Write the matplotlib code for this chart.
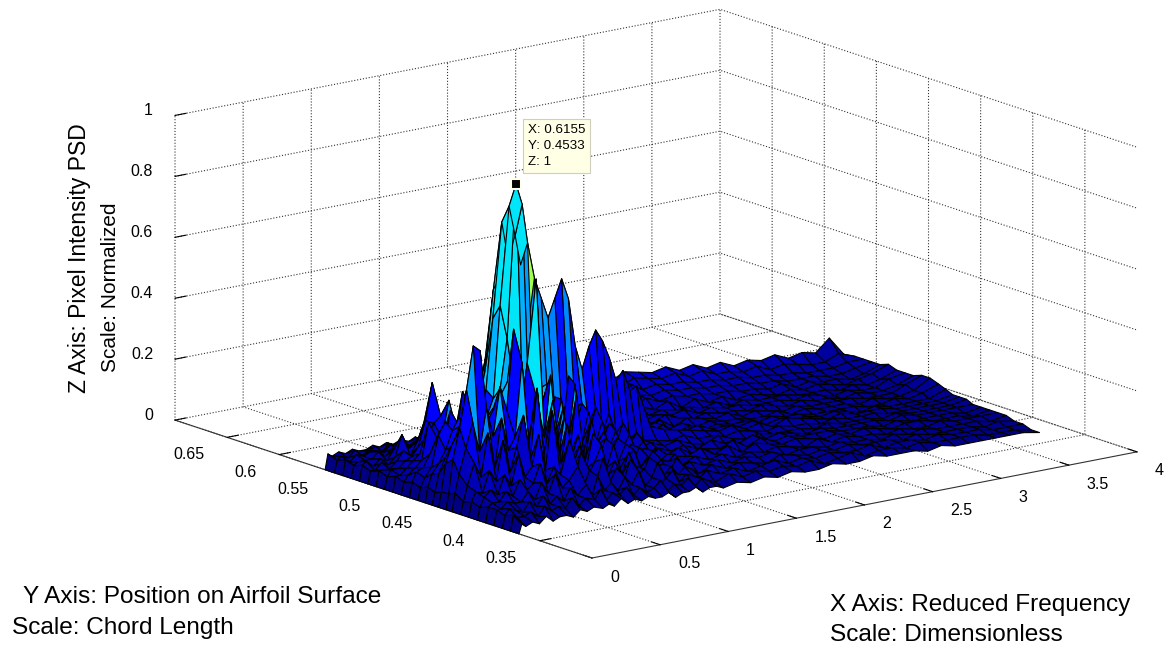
import numpy as np
import matplotlib
matplotlib.use('Agg')
import matplotlib.pyplot as plt
from mpl_toolkits.mplot3d import proj3d

# reduced frequency
x_vals = [0.0, 0.02, 0.05, 0.1, 0.15, 0.2, 0.25, 0.3, 0.35, 0.4, 0.45, 0.5, 0.55, 0.6155, 0.66, 0.7, 0.75, 0.8, 0.85,
          0.9, 0.95, 1.0, 1.05, 1.1, 1.15, 1.2, 1.25, 1.3, 1.35, 1.4, 1.45, 1.5, 1.6, 1.7, 1.8, 1.9, 2.0, 2.1, 2.2,
          2.3, 2.4, 2.5, 2.6, 2.7, 2.8, 2.9, 3.0, 3.1, 3.2, 3.3, 3.4, 3.5, 3.6, 3.7, 3.82]
# chord position
y_vals = [0.37, 0.378, 0.386, 0.394, 0.402, 0.41, 0.418, 0.426, 0.434, 0.44, 0.447, 0.4533, 0.46, 0.467, 0.475,
          0.483, 0.491, 0.499, 0.507, 0.515, 0.523, 0.531, 0.539, 0.547, 0.556]
# PSD in percent of the peak, one row per y value
psd = [
    [0,3,2,3,2,4,2,3,3,2,4,3,4, 3,4,3,5,3,4,3,4,3,3,4,2,3,3,4,2,3,3,2, 3,2,3,2,3,2,2,3,2,2,3,2,2,2,1,2,1,1,1,1,1,1,0],
    [0,5,4,4,5,3,6,4,5,4,7,4,6, 5,8,4,6,5,7,4,6,4,5,7,3,5,4,6,3,5,4,3, 5,3,4,3,4,3,4,2,3,4,2,3,3,2,3,2,2,2,2,1,1,1,0],
    [0,4,6,5,4,7,5,8,5,7,5,9,6, 9,5,11,6,8,5,9,6,10,5,7,4,6,8,4,6,5,4,6, 4,5,3,4,5,3,4,3,4,3,3,4,2,3,3,2,3,2,2,2,1,1,1],
    [0,5,5,7,6,6,9,6,11,7,13,8,10, 14,7,12,8,15,7,11,6,13,7,9,5,10,6,8,5,7,6,4, 6,4,5,4,3,5,4,3,4,3,4,3,3,3,2,3,2,2,2,2,1,2,1],
    [0,5,6,6,9,7,12,8,10,16,9,14,11, 22,10,17,9,13,18,8,12,7,14,9,6,11,7,8,5,9,6,7, 5,6,4,5,4,5,3,4,4,3,4,3,3,2,3,2,3,2,2,2,2,1,2],
    [0,4,7,9,7,13,9,19,11,14,24,12,31, 13,26,11,18,10,21,13,9,16,8,11,13,7,10,6,8,7,9,5, 7,5,6,4,5,4,5,4,3,5,3,4,3,3,2,3,2,2,3,2,2,2,2],
    [0,5,8,7,14,10,23,12,20,30,15,38,16, 33,14,27,12,20,11,24,10,17,12,9,14,8,12,7,10,6,8,7, 6,8,5,7,4,6,5,4,5,4,3,4,3,4,3,2,3,3,2,2,2,1,2],
    [0,4,9,16,11,25,13,29,18,22,46,19,35, 20,40,16,28,13,32,12,22,14,18,10,15,9,12,8,10,7,9,6, 8,5,6,5,7,4,6,4,5,4,4,4,3,3,3,2,3,2,2,2,2,1,2],
    [0,6,12,20,28,18,32,22,38,30,56,28,44, 71,30,36,18,30,15,34,14,24,13,20,11,16,10,14,8,11,7,8, 6,7,5,7,5,4,6,4,5,4,3,4,3,3,3,3,2,3,2,2,2,2,2],
    [0,5,16,26,38,52,50,26,30,34,38,20,28, 25,22,34,20,30,17,36,20,26,16,24,13,18,11,17,10,13,8,9, 7,8,6,5,7,5,4,5,4,4,4,3,4,3,3,3,2,3,2,2,2,2,3],
    [0,5,14,20,24,30,22,28,20,26,30,30,36, 30,28,26,26,28,25,24,26,24,25,18,22,14,20,13,15,10,12,9, 8,7,8,6,6,5,6,5,4,5,4,4,3,4,3,3,3,2,2,2,2,2,3],
    [0,4,10,15,18,24,20,24,18,25,28,34,50, 100,93,80,68,61,54,60,66,59,43,35,42,47,43,37,29,32,25,26, 12,10,9,8,7,6,7,5,6,4,6,5,4,3,4,3,3,3,2,2,2,2,3],
    [0,5,9,12,16,22,26,18,22,20,24,30,60, 92,82,72,50,44,38,40,44,36,30,28,32,26,28,20,22,18,14,12, 10,9,8,7,8,6,6,5,6,4,5,4,4,3,4,3,2,3,2,2,2,2,4],
    [0,4,7,10,20,24,16,22,16,24,18,32,55, 86,74,70,45,34,30,28,34,26,36,20,24,18,22,28,35,14,18,11, 12,8,9,6,7,5,6,5,5,4,5,4,4,3,3,3,3,2,2,3,2,3,5],
    [0,5,8,9,13,18,14,26,18,15,26,24,36, 63,66,60,40,28,42,24,30,18,24,14,22,16,18,14,16,12,16,9, 10,7,9,6,7,5,6,5,5,4,4,5,3,4,3,3,3,2,3,2,2,3,6],
    [0,4,6,8,10,22,12,16,28,14,30,18,22, 39,40,33,30,22,28,18,22,14,20,12,16,11,14,10,13,9,14,8, 9,8,6,8,5,7,6,5,6,4,5,4,3,4,3,3,3,3,2,2,2,4,6],
    [0,5,5,7,9,11,16,20,22,18,14,20,15, 24,20,26,16,20,14,18,12,16,11,15,10,13,9,12,8,11,8,10, 7,9,7,6,8,6,5,6,5,5,4,5,4,3,4,3,3,2,3,2,2,3,5],
    [0,4,6,6,8,9,12,20,32,19,13,11,14, 12,16,11,15,10,14,9,13,9,12,8,11,8,10,7,11,7,9,7, 8,6,9,6,7,6,7,5,6,5,5,4,4,4,3,4,3,2,3,2,2,4,5],
    [0,5,5,5,7,10,8,12,18,10,12,9,10, 14,9,12,8,11,8,12,7,10,7,9,7,10,8,9,7,8,6,8, 7,8,6,9,6,7,6,6,5,6,4,5,4,4,4,3,3,3,2,3,2,3,5],
    [0,4,4,6,5,7,14,9,7,11,8,9,7, 9,10,7,9,7,10,6,9,7,8,6,10,7,8,6,9,7,8,6, 9,6,8,6,8,6,8,5,7,5,6,4,5,4,3,4,3,4,3,2,3,4,6],
    [0,5,6,4,6,5,8,6,9,6,8,6,8, 7,6,9,6,8,6,7,6,9,7,8,6,8,7,9,6,8,7,9, 7,9,7,8,6,9,7,8,7,7,6,6,5,5,4,5,3,4,3,3,2,3,5],
    [0,4,5,5,5,7,5,7,6,8,5,7,6, 7,6,6,8,6,7,7,6,8,6,7,7,9,6,8,6,8,7,10, 8,9,8,10,8,9,8,9,8,8,7,7,6,6,5,5,4,4,4,3,3,4,5],
    [0,5,4,6,5,6,6,5,7,5,6,5,7, 6,7,5,6,7,5,7,6,7,6,8,7,7,8,6,9,7,8,10, 8,11,9,11,9,12,9,10,9,9,8,8,7,7,6,6,5,5,4,4,4,5,5],
    [0,4,5,4,6,4,5,6,4,6,5,6,4, 6,5,7,5,6,6,5,7,5,6,6,7,6,8,6,8,7,9,8, 10,9,12,10,13,10,12,11,10,11,9,10,8,8,7,8,6,7,6,5,5,7,5],
    [0,5,4,5,4,5,4,4,5,4,5,4,5, 4,5,4,5,4,5,5,4,5,5,6,5,6,5,7,6,7,7,8, 9,10,11,13,14,11,13,12,11,12,10,11,9,10,8,9,8,9,7,8,7,11,4],
]
x_ticks = [0, 0.5, 1, 1.5, 2, 2.5, 3, 3.5, 4]
x_labels = ['0', '0.5', '1', '1.5', '2', '2.5', '3', '3.5', '4']
y_ticks = [0.35, 0.4, 0.45, 0.5, 0.55, 0.6, 0.65]
y_labels = ['0.35', '0.4', '0.45', '0.5', '0.55', '0.6', '0.65']
z_ticks = [0, 0.2, 0.4, 0.6, 0.8, 1]
z_labels = ['0', '0.2', '0.4', '0.6', '0.8', '1']

plt.rcParams['font.family'] = ['Liberation Sans', 'DejaVu Sans']
plt.rcParams['grid.linestyle'] = ':'
plt.rcParams['grid.linewidth'] = 0.8
plt.rcParams['grid.color'] = '#333333'
plt.rcParams['axes.linewidth'] = 0.8
plt.rcParams['axes.edgecolor'] = '#333333'

W, H = 1169, 648
fig = plt.figure(figsize=(W / 100, H / 100), dpi=100)
ax = fig.add_axes([0, 0, 1, 1], projection='3d', proj_type='ortho', computed_zorder=False)
ax.view_init(elev=14.7, azim=-127.5)
ax.set_box_aspect((687, 685, 315))
ax.patch.set_alpha(0)

X, Y = np.meshgrid(x_vals, y_vals)
Z = np.array(psd) / 100.0
# faces in the reference stay cyan on the tall peak and dark blue on the low hills
C = np.where(Z < 0.25, Z * 0.6, np.minimum(Z, 0.35))
C[y_vals.index(0.4533), x_vals.index(0.7)] = 0.55
ax.plot_surface(X, Y, Z, rstride=1, cstride=1, facecolors=plt.cm.jet(C), edgecolor='k',
                linewidth=0.8, shade=False, zorder=2)
ax.plot([0.6155], [0.4533], [1], 's', color='k', ms=6.5, mec='#fffff0', mew=1.5, zorder=5, clip_on=False)

ax.set_xlim(0, 4)
ax.set_ylim(0.3, 0.7)
ax.set_zlim(0, 1)
ax.set_xticks(x_ticks, [''] * len(x_ticks))
ax.set_yticks(y_ticks, [''] * len(y_ticks))
ax.set_zticks(z_ticks, [''] * len(z_ticks))
ax.zaxis.set_ticks_position('upper')
for axis in (ax.xaxis, ax.yaxis, ax.zaxis):
    axis.set_pane_color((1, 1, 1, 0))
    axis.pane.set_edgecolor('none')
    axis._axinfo['tick']['inward_factor'] = 0
    axis._axinfo['tick']['outward_factor'] = 0.25
ax.zaxis.line.set_color('none')


def to_px(x, y, z):
    xs, ys, _ = proj3d.proj_transform(x, y, z, ax.get_proj())
    return ax.transData.transform((xs, ys))


# line the box corners up with the reference
fig.canvas.draw()
p0 = to_px(0, 0.3, 0)
p1 = to_px(4, 0.3, 0)
L = H * 545.0 / (p1[0] - p0[0])
ax.set_position([0, 0, L / W, L / H])
fig.canvas.draw()
p0 = to_px(0, 0.3, 0)
ax.set_position([(592 - p0[0]) / W, (H - 558 - p0[1]) / H, L / W, L / H])
fig.canvas.draw()


def tick_label(px, txt, dx, dy, ha):
    fig.text((px[0] + dx) / W, (px[1] - dy) / H, txt, fontsize=11.5, ha=ha, va='center')


# native 3d tick labels slide along a slant with pad, so they are placed from the projected ticks
for t, txt in zip(x_ticks, x_labels):
    tick_label(to_px(t, 0.3, 0), txt, 18, 19, 'left')
for t, txt in zip(y_ticks, y_labels):
    tick_label(to_px(0, t, 0), txt, -23, 17.5, 'right')
for t, txt in zip(z_ticks, z_labels):
    tick_label(to_px(0, 0.7, t), txt, -22, -4.5, 'right')

fig.text(23 / W, 1 - 597 / H, 'Y Axis: Position on Airfoil Surface', fontsize=17.6, va='center')
fig.text(12 / W, 1 - 628 / H, 'Scale: Chord Length', fontsize=17.6, va='center')
fig.text(830 / W, 1 - 605 / H, 'X Axis: Reduced Frequency', fontsize=17.6, va='center')
fig.text(830 / W, 1 - 635 / H, 'Scale: Dimensionless', fontsize=17.6, va='center')
fig.text(80 / W, 1 - 258 / H, 'Z Axis: Pixel Intensity PSD', fontsize=16.5, rotation=90, ha='center', va='center')
fig.text(110 / W, 1 - 287 / H, 'Scale: Normalized', fontsize=15, rotation=90, ha='center', va='center')
fig.text(528 / W, 1 - 146 / H, 'X: 0.6155\nY: 0.4533\nZ: 1', fontsize=9.6, va='center', linespacing=1.45,
         bbox=dict(boxstyle='square,pad=0.35', fc='#ffffe6', ec='#cfcfc0', lw=0.8), zorder=10)

fig.savefig('out.png', dpi=100)
